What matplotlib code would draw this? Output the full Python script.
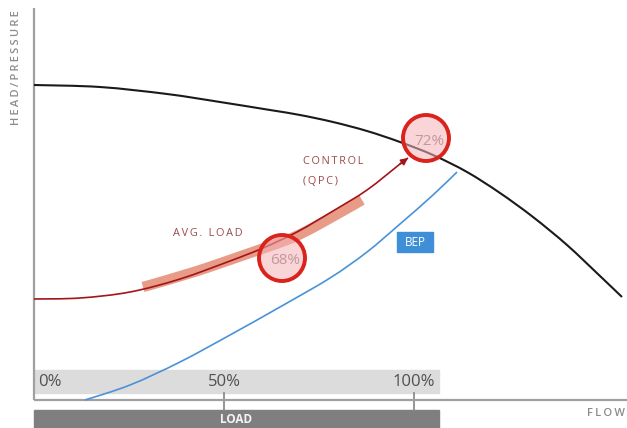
import matplotlib
matplotlib.use("Agg")
import matplotlib.pyplot as plt
import numpy as np
from matplotlib.patches import Circle, Rectangle, PathPatch
from matplotlib.path import Path

plt.rcParams['font.family'] = ['Open Sans', 'DejaVu Sans']

# pump curve (flow vs head, arbitrary units)
pump_flow = [0, 66, 133, 186, 236, 266, 299, 333, 366, 399, 433, 466, 499, 533, 566, 588]
pump_head = [315, 313, 306, 298, 290, 285, 278, 269, 258, 245, 228, 207, 183, 155, 124, 103]

# control curve (QPC)
ctrl_flow = [0, 46, 96, 146, 196, 229, 263, 299, 333, 366, 374]
ctrl_head = [101, 102, 108, 121, 139, 152, 168, 189, 210, 236, 242]

# average load band along the control curve
avg_flow = [109, 160, 210, 260, 300, 328]
avg_head = [113, 128, 145, 163, 184, 200]

# best efficiency point curve
bep_flow = [51, 96, 146, 196, 246, 296, 333, 366, 399, 423]
bep_head = [0, 15, 38, 65, 93, 122, 148, 176, 205, 228]

# efficiency markers
eff_labels = ["68%", "72%"]
eff_flow = [248, 392]
eff_head = [142, 262]
avg_mark = (228, 153)

# load scale
load_ticks = [0, 50, 100]
flow_per_load = 3.8


def spaced(s):
    return "\u2009".join(s)


def smooth_path(xs, ys):
    # Catmull-Rom through the points, written as cubic Bezier segments
    p = np.column_stack([xs, ys]).astype(float)
    n = len(p)
    verts = [p[0]]
    codes = [Path.MOVETO]
    for i in range(n - 1):
        p0 = p[i - 1] if i > 0 else p[i]
        p1, p2 = p[i], p[i + 1]
        p3 = p[i + 2] if i + 2 < n else p[i + 1]
        verts += [p1 + (p2 - p0) / 6, p2 - (p3 - p1) / 6, p2]
        codes += [Path.CURVE4] * 3
    return Path(verts, codes)


def draw_curve(ax, xs, ys, **kw):
    patch = PathPatch(smooth_path(xs, ys), fill=False, **kw)
    ax.add_patch(patch)
    return patch


fig = plt.figure(figsize=(6.27, 4.28), dpi=100)
ax = fig.add_axes([0, 0, 1, 1])
ax.set_xlim(-34, 593)
ax.set_ylim(-28, 400)
ax.set_aspect('equal')
ax.axis('off')

load_end = 405

# grey load band with percentages
ax.add_patch(Rectangle((0, 7), load_end, 23, color='#dcdcdc', zorder=1))
for t in load_ticks:
    fx = t * flow_per_load
    if t == 0:
        ax.text(fx + 4, 18, f"{t}%", ha='left', va='center', fontsize=12, color='#505050')
    else:
        ax.text(fx, 18, f"{t}%", ha='center', va='center', fontsize=12, color='#505050')
        ax.plot([fx, fx], [7, -10], color='#8c8c8c', lw=1.3, zorder=2)

# dark load bar
ax.add_patch(Rectangle((0, -28), load_end, 18, color='#7f7f7f', zorder=1))
ax.text(load_end / 2, -19.5, "LOAD", ha='center', va='center', fontsize=8.5,
        color='#f4f4f4', fontweight='bold')

# axes lines
ax.plot([0, 0], [0, 392], color='#a0a0a0', lw=1.6, zorder=2, solid_capstyle='butt')
ax.plot([0, 593], [0, 0], color='#a0a0a0', lw=1.6, zorder=2, solid_capstyle='butt')
ax.text(-17, 332, spaced("HEAD/PRESSURE"), rotation=90, ha='center', va='center',
        fontsize=8, color='#8c8c8c', fontweight='semibold')
ax.text(591, -14, spaced("FLOW"), ha='right', va='center', fontsize=8,
        color='#8c8c8c', fontweight='semibold')

# curves
draw_curve(ax, pump_flow, pump_head, edgecolor='#1a1a1a', lw=1.5, zorder=4)
draw_curve(ax, bep_flow, bep_head, edgecolor='#4a92d8', lw=1.2, zorder=3)
band = draw_curve(ax, avg_flow, avg_head, edgecolor='#e48a72', lw=7.5, alpha=0.85, zorder=3)
band.set_capstyle('butt')
draw_curve(ax, ctrl_flow, ctrl_head, edgecolor='#a3151a', lw=1.2, zorder=4)
ax.annotate('', xy=(ctrl_flow[-1], ctrl_head[-1]), xytext=(ctrl_flow[-2], ctrl_head[-2]),
            arrowprops=dict(arrowstyle='-|>', color='#a3151a', lw=1.2,
                            mutation_scale=10, shrinkA=0, shrinkB=0), zorder=4)
ax.plot(*avg_mark, marker=(2, 2, -25), markersize=9, color='#5a1010', mew=1.3, zorder=5)

# labels
ax.text(269, 239, spaced("CONTROL"), ha='left', va='center', fontsize=7.8, color='#9c4a4a')
ax.text(269, 219, spaced("(QPC)"), ha='left', va='center', fontsize=7.8, color='#9c4a4a')
ax.text(139, 167, spaced("AVG. LOAD"), ha='left', va='center', fontsize=7.8, color='#9c4a4a')

ax.add_patch(Rectangle((363, 148), 36, 20, color='#3f8fd8', zorder=3))
ax.text(381, 158, "BEP", ha='center', va='center', fontsize=8.5, color='white', zorder=4)

# efficiency circles
for lab, fx, hy in zip(eff_labels, eff_flow, eff_head):
    ax.add_patch(Circle((fx, hy), 23, facecolor='#f5b3b7', alpha=0.55,
                        edgecolor='none', zorder=5))
    ax.add_patch(Circle((fx, hy), 23, facecolor='none', edgecolor='#d9231c',
                        lw=2.8, zorder=6))
    ax.text(fx + 3, hy - 3, lab, ha='center', va='center', fontsize=11,
            color='#c2979c', zorder=7)

fig.savefig("out.png", dpi=100)
